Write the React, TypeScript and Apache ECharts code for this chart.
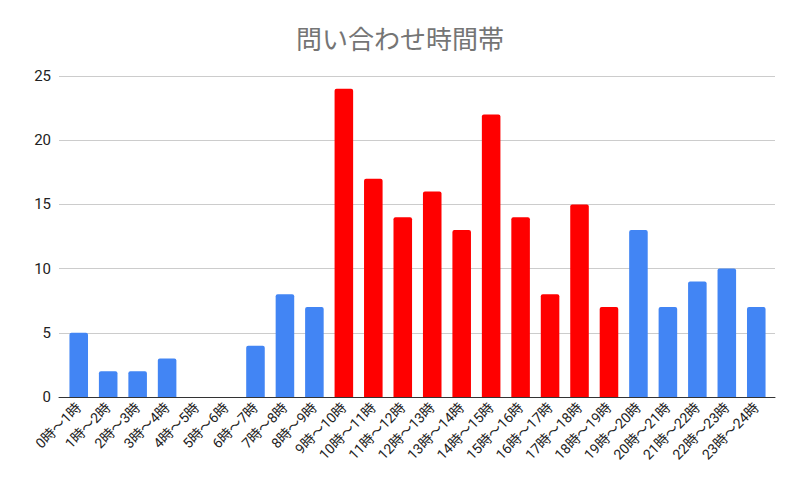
import React, { useEffect, useRef } from "react";
import * as echarts from "echarts";

const categories = [
  "0時〜1時", "1時〜2時", "2時〜3時", "3時〜4時", "4時〜5時", "5時〜6時",
  "6時〜7時", "7時〜8時", "8時〜9時", "9時〜10時", "10時〜11時", "11時〜12時",
  "12時〜13時", "13時〜14時", "14時〜15時", "15時〜16時", "16時〜17時", "17時〜18時",
  "18時〜19時", "19時〜20時", "20時〜21時", "21時〜22時", "22時〜23時", "23時〜24時",
];
const values = [5, 2, 2, 3, 0, 0, 4, 8, 7, 24, 17, 14, 16, 13, 22, 14, 8, 15, 7, 13, 7, 9, 10, 7];
const highlighted = [false, false, false, false, false, false, false, false, false, true, true, true, true, true, true, true, true, true, true, false, false, false, false, false];
const title = "問い合わせ時間帯";
const BLUE = "#4285F4";
const RED = "#FF0000";

export default function App() {
  const ref = useRef<HTMLDivElement>(null);
  useEffect(() => {
    if (!ref.current) return;
    const chart = echarts.init(ref.current, null, { renderer: "svg" });
    const font = "Roboto, 'Noto Sans CJK JP', sans-serif";
    chart.setOption({
      animation: false,
      backgroundColor: "#ffffff",
      textStyle: { fontFamily: font },
      title: {
        text: title,
        left: "center",
        top: 22,
        textStyle: { color: "#757575", fontSize: 26, fontWeight: "normal", fontFamily: font },
      },
      grid: [
        { left: 59, right: 25, top: 76, bottom: 98 },
        { left: 64, right: 29, top: 76, bottom: 98 },
      ],
      xAxis: [
        {
          type: "category",
          gridIndex: 0,
          data: categories,
          axisLine: { show: true, lineStyle: { color: "#333333", width: 1 } },
          axisTick: { show: false },
          axisLabel: { show: false },
          z: 5,
        },
        {
          type: "category",
          gridIndex: 1,
          data: categories,
          axisLine: { show: false },
          axisTick: { show: false },
          axisLabel: { rotate: 45, color: "#222222", fontSize: 14, margin: 8, interval: 0, fontFamily: font },
        },
      ],
      yAxis: [
        {
          type: "value",
          gridIndex: 0,
          min: 0,
          max: 25,
          interval: 5,
          axisLine: { show: false },
          axisTick: { show: false },
          axisLabel: { color: "#222222", fontSize: 15, margin: 8, fontFamily: font },
          splitLine: { lineStyle: { color: "#cccccc", width: 1 } },
        },
        {
          type: "value",
          gridIndex: 1,
          min: 0,
          max: 25,
          interval: 5,
          show: false,
          splitLine: { show: false },
        },
      ],
      series: [
        {
          type: "bar",
          xAxisIndex: 1,
          yAxisIndex: 1,
          barWidth: "63%",
          data: values.map((v, i) => ({
            value: v,
            itemStyle: { color: highlighted[i] ? RED : BLUE, borderRadius: [2, 2, 0, 0] },
          })),
        },
      ],
    });
    return () => chart.dispose();
  }, []);
  return <div ref={ref} style={{ position: "absolute", left: 0, top: 0, width: 800, height: 495 }} />;
}
